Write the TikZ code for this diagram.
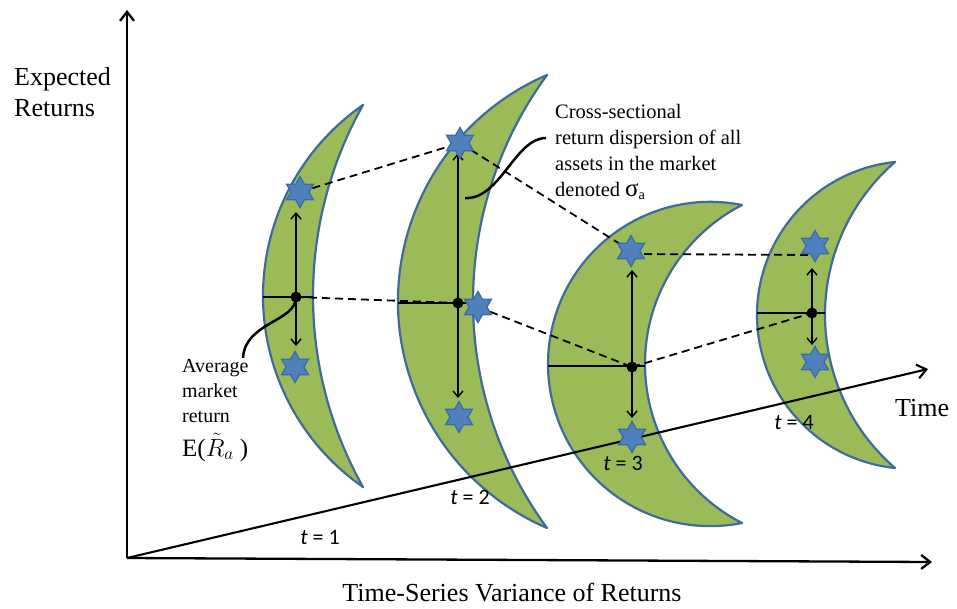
\documentclass[tikz,border=0pt]{standalone}
\usepackage{fontspec}
\setmainfont{Liberation Serif}
\newfontfamily\calib{Carlito}
\usetikzlibrary{arrows.meta,shapes.geometric}
\definecolor{cresfill}{HTML}{9BBB59}
\definecolor{cresline}{HTML}{3E6A9C}
\definecolor{starfill}{HTML}{4F81BD}
\definecolor{starline}{HTML}{3A6BA8}
\pgfdeclarelayer{back}
\pgfdeclarelayer{mid}
\pgfsetlayers{back,mid,main}
% #1 tip x, #2 top tip y, #3 bottom tip y, #4 outer leftmost x, #5 inner leftmost x
\newcommand\mycrescent[5]{%
  \pgfmathsetmacro\cH{(#3-#2)/2}%
  \pgfmathsetmacro\cSo{#1-#4}%
  \pgfmathsetmacro\cSi{#1-#5}%
  \pgfmathsetmacro\cRo{\cH/\cSo*\cH/2+\cSo/2}%
  \pgfmathsetmacro\cRi{\cH/\cSi*\cH/2+\cSi/2}%
  \pgfmathsetmacro\cAo{atan2(-\cH,\cSo-\cRo)}%
  \pgfmathsetmacro\cAi{atan2(-\cH,\cSi-\cRi)}%
  \begin{pgfonlayer}{back}
  \filldraw[cres] (#1,#2) arc[start angle={360+\cAo}, end angle={-\cAo}, radius=\cRo]
     arc[start angle={-\cAi}, end angle={360+\cAi}, radius=\cRi] -- cycle;
  \end{pgfonlayer}}
\begin{document}
\begin{tikzpicture}[x=1pt,y=-1pt,
  cres/.style={fill=cresfill,draw=cresline,line width=2.2pt,line join=round},
  starnode/.style={star,star points=6,star point ratio=1.75,minimum size=31pt,inner sep=0pt,fill=starfill,draw=starline,line width=1.3pt},
  dotnode/.style={circle,fill=black,minimum size=11pt,inner sep=0pt},
  axis/.style={line width=2.3pt,-{Straight Barb[length=9pt,width=14pt]}},
  timeline/.style={line width=2.1pt,-{Straight Barb[length=9pt,width=14pt]}},
  spread/.style={line width=1.4pt,-{Straight Barb[length=6pt,width=10pt]}},
  hline/.style={line width=1.4pt},
  dashline/.style={line width=1.8pt,dash pattern=on 8pt off 5pt},
  callout/.style={line width=2.5pt},
  axlabel/.style={font=\fontsize{26}{31}\selectfont,inner sep=0pt},
  note/.style={font=\fontsize{20.5}{25}\selectfont,inner sep=0pt,anchor=base west},
  tlabel/.style={font=\calib\fontsize{22}{26}\selectfont,inner sep=0pt}
]
\useasboundingbox (0,0) rectangle (957,608);

% crescents
\mycrescent{363}{105}{487}{263}{313}
\mycrescent{547}{75}{528}{398}{473}
\mycrescent{742}{205}{523}{548}{645}
\mycrescent{895}{162}{468}{757}{825}

% stars and dots
\node[starnode] (s1t) at (300,192) {};
\node[starnode] (s1b) at (295,367) {};
\node[starnode] (s2t) at (460,143) {};
\node[starnode] (s2r) at (478,307) {};
\node[starnode] (s2b) at (459,417) {};
\node[starnode] (s3t) at (631,251) {};
\node[starnode] (s3b) at (632,437) {};
\node[starnode] (s4t) at (815,246) {};
\node[starnode] (s4b) at (815,362) {};
\node[dotnode] (d1) at (296,297) {};
\node[dotnode] (d2) at (458,303) {};
\node[dotnode] (d3) at (632,367) {};
\node[dotnode] (d4) at (812,313) {};

% axes coordinates
\coordinate (O) at (127,558);
\coordinate (ytop) at (127,10);
\coordinate (xend) at (932,562);
\coordinate (tend) at (928,369);
% horizontal line ends
\coordinate (h1a) at (263,297); \coordinate (h1b) at (313,297);
\coordinate (h2a) at (398,303); \coordinate (h2b) at (473,303);
\coordinate (h3a) at (548,366); \coordinate (h3b) at (645,366);
\coordinate (h4a) at (757,313); \coordinate (h4b) at (825,313);
% arrow ends
\coordinate (a1u) at (296,212); \coordinate (a1d) at (296,346);
\coordinate (a2u) at (458,153); \coordinate (a2d) at (458,398);
\coordinate (a3u) at (632,270); \coordinate (a3d) at (632,418);
\coordinate (a4u) at (812,268); \coordinate (a4d) at (812,345);
% callout ends
\coordinate (c1s) at (546,138); \coordinate (c1e) at (465,198);
\coordinate (c2e) at (243,358);

\begin{pgfonlayer}{mid}
\draw[axis] (O) -- (ytop);
\draw[axis] (O) -- (xend);
\draw[timeline] (O) -- (tend);
\foreach \a/\b in {h1a/h1b,h2a/h2b,h3a/h3b,h4a/h4b} \draw[hline] (\a) -- (\b);
\foreach \d/\u/\w in {d1/a1u/a1d,d2/a2u/a2d,d3/a3u/a3d,d4/a4u/a4d}{
  \draw[spread] (\d.center) -- (\u);
  \draw[spread] (\d.center) -- (\w);}
\draw[dashline] (s1t.center) -- (s2t.center);
\draw[dashline] (s2t.center) -- (s3t.center);
\draw[dashline] ([yshift=-3pt]s3t.center) -- ([yshift=-9pt]s4t.center);
\draw[dashline] (d1.center) -- (d2.center);
\draw[dashline] (s2r.center) -- (d3.center);
\draw[dashline] (d3.center) -- (d4.center);
\draw[callout] (c1s) .. controls (515,138) and (500,200) .. (c1e);
\draw[callout] (d1.center) .. controls (296,322) and (245,322) .. (c2e);
\end{pgfonlayer}

% labels
\node[axlabel,anchor=base west] (ylab1) at (14,85) {Expected};
\node[axlabel,anchor=base west] (ylab2) at (14,116) {Returns};
\node[axlabel,anchor=base] (xlab) at (512,601) {Time-Series Variance of Returns};
\node[axlabel,anchor=base west] (tlab) at (895,416) {Time};

\node[note] (n1) at (555,118) {Cross-sectional};
\node[note] (n2) at (555,144) {return dispersion of all};
\node[note] (n3) at (555,170) {assets in the market};
\node[note] (n4) at (555,196) {denoted {\fontsize{25}{25}\selectfont σ}\textsubscript{a}};

\node[note,font=\fontsize{20}{25}\selectfont] (m1) at (182,372) {Average};
\node[note,font=\fontsize{20}{25}\selectfont] (m2) at (182,397) {market};
\node[note,font=\fontsize{20}{25}\selectfont] (m3) at (182,422) {return};
\node[note,font=\fontsize{25}{30}\selectfont] (m4) at (182,456) {E($\tilde{R}_{a}$\ )};

\node[tlabel] (t1) at (320,537) {\itshape t\upshape\ = 1};
\node[tlabel] (t2) at (470,497) {\itshape t\upshape\ = 2};
\node[tlabel] (t3) at (623,463) {\itshape t\upshape\ = 3};
\node[tlabel] (t4) at (794,423) {\itshape t\upshape\ = 4};
\end{tikzpicture}
\end{document}
